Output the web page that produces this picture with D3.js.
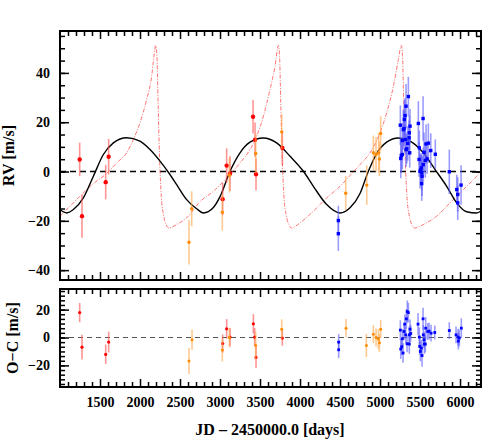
<!doctype HTML>
<html>
  <head>
    <title>RV fit</title>
    <style>
      body { margin: 0; background: #fff; }
      text { font-family: "Liberation Serif", "DejaVu Serif", serif; font-weight: bold; }
      .frame { fill: none; stroke: black; stroke-width: 2px; }
      .tick line { stroke: black; stroke-width: 1.5px; }
    </style>
    <script src="https://cdn.jsdelivr.net/npm/d3@7"></script>
  </head>
  <body>

  <svg width="501" height="442"></svg>

  <script>

  // observed RV: [JD-2450000, m/s, error]
  var rvRed = [
    [1246, 4.9, 6.8], [1275, -18.1, 8.8], [1571, -4.3, 7], [1608, 6.0, 7.2],
    [3033, -11.2, 6.5], [3083, 2.4, 7], [3125, -0.8, 7], [3413, 22.2, 6.8],
    [3438, 12.9, 7], [3450, -1.1, 6.5], [3779, 9.6, 7]
  ];
  var rvOrange = [
    [2612, -28.7, 9], [2646, -15.1, 7.1], [3029, -16.5, 7.5], [3117, -1.5, 7],
    [3446, 7.3, 8], [3771, 16.1, 7], [4571, -8.8, 7], [4834, -5.5, 8],
    [4917, 7.6, 7], [4950, 6.9, 7], [4983, 7.6, 8], [4992, 5.1, 7], [5008, 15.4, 7]
  ];
  var rvBlue = [
    [4479, -19.9, 6], [4479, -25.2, 7],
    [5254, 18.8, 8], [5259, 5.3, 8], [5266, 6.5, 7], [5279, 12.6, 7], [5279, 6.9, 6],
    [5291, 17.0, 8], [5300, 17.4, 7], [5304, 21.1, 8], [5313, 22.7, 7], [5316, 13.0, 6],
    [5325, 26.5, 9], [5325, 8.9, 7], [5334, 9.2, 6], [5346, 11.4, 7], [5354, 30.4, 8],
    [5363, 13.7, 7], [5366, 15.7, 7], [5371, 7.6, 6], [5375, 18.4, 7],
    [5479, 19.5, 9], [5488, 4.9, 7], [5491, 9.6, 7], [5500, 0.1, 7], [5509, 0.8, 6],
    [5516, 1.5, 6], [5521, -0.5, 7], [5521, -4.9, 7], [5525, -1.9, 8], [5538, 21.5, 9],
    [5541, 2.8, 7], [5550, 7.8, 8], [5566, 4.5, 7], [5575, 11.2, 8], [5588, 5.1, 6],
    [5604, 11.5, 8], [5634, 8.5, 7], [5691, 7.0, 6],
    [5866, -0.1, 9], [5959, -7.3, 6], [5971, -9.3, 7], [5971, -12.7, 7], [6013, -5.5, 8]
  ];

  // residuals O-C: [JD-2450000, m/s, error]
  var ocRed = [
    [1246, 17.9, 6.9], [1275, -6.9, 8.9], [1571, -12.1, 7], [1608, -3.3, 7.5],
    [3033, -4.3, 6.5], [3083, 6.2, 7], [3125, 0.3, 6.5], [3417, 9.8, 7],
    [3433, 0.3, 6.5], [3450, -14.3, 7.5], [3779, -0.4, 5.5]
  ];
  var ocOrange = [
    [2612, -16.9, 9.3], [2650, -1.6, 7.4], [3029, -9.0, 8.2], [3117, 0, 7],
    [3446, -5.7, 10], [3771, 6.0, 7], [4575, 6.7, 6.5], [4829, -5.7, 8.3],
    [4917, 2.4, 6.5], [4950, 0, 6.5], [4979, -1.1, 7], [4992, -3.8, 6.5], [5008, 6.0, 6.5]
  ];
  var ocBlue = [
    [4483, -3.3, 5.7], [4483, -8.8, 6],
    [5254, 5.3, 7], [5259, -8.3, 7], [5271, -6.6, 6], [5279, -0.9, 7], [5288, -11.1, 7],
    [5300, 4.3, 6], [5309, 9.6, 7], [5321, 1.9, 6], [5329, 13.4, 7], [5341, 18.6, 8],
    [5354, 17.9, 7], [5338, -4.5, 6], [5366, -4.7, 7], [5366, 1.9, 6], [5375, 6.0, 7],
    [5384, 2.9, 6], [5475, 9.6, 8], [5491, 0.3, 7], [5496, -6.4, 6], [5504, -10.0, 7],
    [5516, -7.6, 6], [5525, -12.9, 8], [5538, 13.4, 8], [5541, 1.9, 7], [5550, -1.6, 6],
    [5554, -4.7, 7], [5566, -4.7, 6], [5571, 6.7, 8], [5596, 4.3, 6], [5613, 4.6, 6],
    [5638, 3.1, 6], [5684, 3.6, 5],
    [5866, 5.0, 6], [5950, 1.9, 6], [5975, 0.3, 6], [5979, -2.6, 6], [5991, -0.4, 6], [6016, 6.7, 7]
  ];

  // model curves: [JD-2450000, m/s]
  var fitBlack = [
    [1000, -15.4], [1083, -16.8], [1167, -15.4], [1292, -10.7], [1417, -1.9], [1542, 6.9],
    [1667, 11.6], [1833, 13.7], [2000, 12.3], [2125, 8.9], [2250, 4.2], [2354, -0.3],
    [2458, -5.3], [2583, -11.4], [2708, -15.1], [2792, -16.8], [2917, -14.6], [3000, -10.2],
    [3125, 0.1], [3250, 7.6], [3375, 11.9], [3542, 13.6], [3708, 11.6], [3875, 6.2],
    [4042, 0.1], [4167, -6.0], [4333, -13.4], [4500, -16.8], [4625, -14.7], [4750, -8.9],
    [4854, 0.1], [4958, 7.3], [5083, 11.9], [5229, 13.6], [5375, 12.3], [5541, 7.6],
    [5688, 0.8], [5833, -6.0], [5958, -12.7], [6083, -16.3], [6208, -16.8], [6262, -16.0]
  ];
  var fitRed = [
    [1000, -18.1], [1125, -14.1], [1250, -10.0], [1417, -4.9], [1583, -0.8], [1708, 3.5],
    [1833, 7.6], [1917, 13.0], [2000, 19.8], [2083, 29.2], [2146, 38.7], [2175, 46.8],
    [2196, 51.1], [2211, 47], [2226, 28], [2244, 6], [2266, -10], [2296, -18], [2326, -21.5],
    [2361, -22.9], [2458, -21.5], [2583, -18.8], [2750, -12.2], [2917, -8.0], [3083, -2.6],
    [3250, 3.5], [3375, 8.9], [3458, 14.3], [3542, 22.4], [3625, 33.3], [3688, 42.7],
    [3729, 51.1], [3744, 47], [3759, 28], [3777, 6], [3799, -10], [3829, -18], [3859, -21.5],
    [3894, -22.9], [4000, -20.8], [4167, -16.1], [4333, -10.7], [4500, -6.0], [4625, -1.6],
    [4750, 2.8], [4875, 7.6], [5000, 15.7], [5083, 23.8], [5167, 34.6], [5229, 45.4],
    [5266, 51.1], [5281, 47], [5296, 28], [5314, 6], [5336, -10], [5366, -18], [5396, -21.5],
    [5431, -22.9], [5541, -21.5], [5708, -18.1], [5875, -12.7], [6042, -7.3], [6208, -1.9],
    [6262, 0.1]
  ];

  // ticks
  var xMajor = [1500, 2000, 2500, 3000, 3500, 4000, 4500, 5000, 5500, 6000];
  var xMinor = d3.range(1100, 6262, 100);
  var rvMajor = [-40, -20, 0, 20, 40];
  var rvMinor = d3.range(-40, 56, 5);
  var ocMajor = [-20, 0, 20];
  var ocMinor = d3.range(-20 - 10 * 4 / 3 + 0.01, 35, 10 / 3);

  var colors = { red: '#ff0000', orange: '#ff8c00', blue: '#0000ff' };
  var barColors = { red: '#ff4d4d', orange: '#ffa54a', blue: '#5a5aff' };

  var $svg = d3.select('svg');
  var left = 60, right = 481;
  var top1 = 31, bot1 = 280, top2 = 289, bot2 = 387;

  var x = d3.scaleLinear().domain([1000, 6262]).range([left, right]);
  var yRV = d3.scaleLinear().domain([-44, 57]).range([bot1, top1]);
  var yOC = d3.scaleLinear().domain([-35.5, 34.8]).range([bot2, top2]);

  var fmt = function(d){ return d < 0 ? '\u2212' + Math.abs(d) : d; };

  function panel(y, t, b, yMajor, yMinor, clipId) {
    var g = $svg.append('g');
    g.append('clipPath').attr('id', clipId)
      .append('rect').attr('x', left).attr('y', t).attr('width', right - left).attr('height', b - t);
    var plot = g.append('g').attr('clip-path', 'url(#' + clipId + ')');

    // minor + major ticks on all four sides, pointing inward
    function ax(axisFn, scale, vals, size, tr, labels) {
      var a = axisFn(scale).tickValues(vals).tickSize(-size).tickPadding(10)
        .tickFormat(labels ? fmt : '');
      var s = g.append('g').attr('transform', tr).call(a);
      s.select('.domain').remove();
      s.selectAll('text').style('font-size', '14px').attr('fill', 'black');
      return s;
    }
    ax(d3.axisBottom, x, xMinor.filter(function(v){ return xMajor.indexOf(v) < 0; }), 5, 'translate(0,' + b + ')', false);
    ax(d3.axisBottom, x, xMajor, 8, 'translate(0,' + b + ')', clipId === 'clipOC');
    ax(d3.axisTop, x, xMinor.filter(function(v){ return xMajor.indexOf(v) < 0; }), 5, 'translate(0,' + t + ')', false);
    ax(d3.axisTop, x, xMajor, 8, 'translate(0,' + t + ')', false);
    ax(d3.axisLeft, y, yMinor, 5, 'translate(' + left + ',0)', false);
    ax(d3.axisLeft, y, yMajor, 9, 'translate(' + left + ',0)', true);
    ax(d3.axisRight, y, yMinor, 5, 'translate(' + right + ',0)', false);
    ax(d3.axisRight, y, yMajor, 9, 'translate(' + right + ',0)', false);

    g.append('rect').attr('class', 'frame')
      .attr('x', left).attr('y', t).attr('width', right - left).attr('height', b - t);
    return plot;
  }

  function points(g, data, y, key, kind, size) {
    g.selectAll(null).data(data).enter().append('line')
      .attr('x1', function(d){ return x(d[0]); })
      .attr('x2', function(d){ return x(d[0]); })
      .attr('y1', function(d){ return y(d[1] - d[2]); })
      .attr('y2', function(d){ return y(d[1] + d[2]); })
      .attr('stroke', barColors[key])
      .attr('stroke-opacity', 0.6)
      .attr('stroke-width', 1.6);
    if (kind === 'square') {
      g.selectAll(null).data(data).enter().append('rect')
        .attr('x', function(d){ return x(d[0]) - size / 2; })
        .attr('y', function(d){ return y(d[1]) - size / 2; })
        .attr('width', size).attr('height', size)
        .attr('fill', colors[key]);
    } else {
      g.selectAll(null).data(data).enter().append('circle')
        .attr('cx', function(d){ return x(d[0]); })
        .attr('cy', function(d){ return y(d[1]); })
        .attr('r', size)
        .attr('fill', colors[key]);
    }
  }

  // top panel
  var p1 = panel(yRV, top1, bot1, rvMajor, rvMinor, 'clipRV');
  p1.append('line')
    .attr('x1', left).attr('x2', right).attr('y1', yRV(0)).attr('y2', yRV(0))
    .attr('stroke', 'black').attr('stroke-width', 1.3).attr('stroke-dasharray', '6,4');

  var line = d3.line()
    .x(function(d){ return x(d[0]); })
    .y(function(d){ return yRV(d[1]); })
    .curve(d3.curveMonotoneX);

  p1.append('path').datum(fitRed).attr('d', line)
    .attr('fill', 'none').attr('stroke', '#ff3030').attr('stroke-opacity', 0.75)
    .attr('stroke-width', 0.9).attr('stroke-dasharray', '4,1.5,1,1.5');
  p1.append('path').datum(fitBlack).attr('d', line)
    .attr('fill', 'none').attr('stroke', 'black').attr('stroke-width', 1.4);

  points(p1, rvRed, yRV, 'red', 'circle', 2.2);
  points(p1, rvOrange, yRV, 'orange', 'circle', 1.7);
  points(p1, rvBlue, yRV, 'blue', 'square', 3.4);

  // bottom panel
  var p2 = panel(yOC, top2, bot2, ocMajor, ocMinor, 'clipOC');
  p2.append('line')
    .attr('x1', left).attr('x2', right).attr('y1', yOC(0)).attr('y2', yOC(0))
    .attr('stroke', '#555').attr('stroke-width', 1).attr('stroke-dasharray', '5,4');

  points(p2, ocRed, yOC, 'red', 'circle', 1.6);
  points(p2, ocOrange, yOC, 'orange', 'circle', 1.5);
  points(p2, ocBlue, yOC, 'blue', 'square', 2.8);

  // axis titles
  $svg.append('text').text('RV [m/s]')
    .attr('transform', 'translate(14,' + (top1 + bot1) / 2 + ') rotate(-90)')
    .attr('text-anchor', 'middle').style('font-size', '16px');
  $svg.append('text').text('O\u2212C [m/s]')
    .attr('transform', 'translate(18,' + (top2 + bot2) / 2 + ') rotate(-90)')
    .attr('text-anchor', 'middle').style('font-size', '16px');
  $svg.append('text').text('JD \u2013 2450000.0 [days]')
    .attr('x', 270).attr('y', 435)
    .attr('text-anchor', 'middle').style('font-size', '16px');

  </script>

  </body>
</html>
